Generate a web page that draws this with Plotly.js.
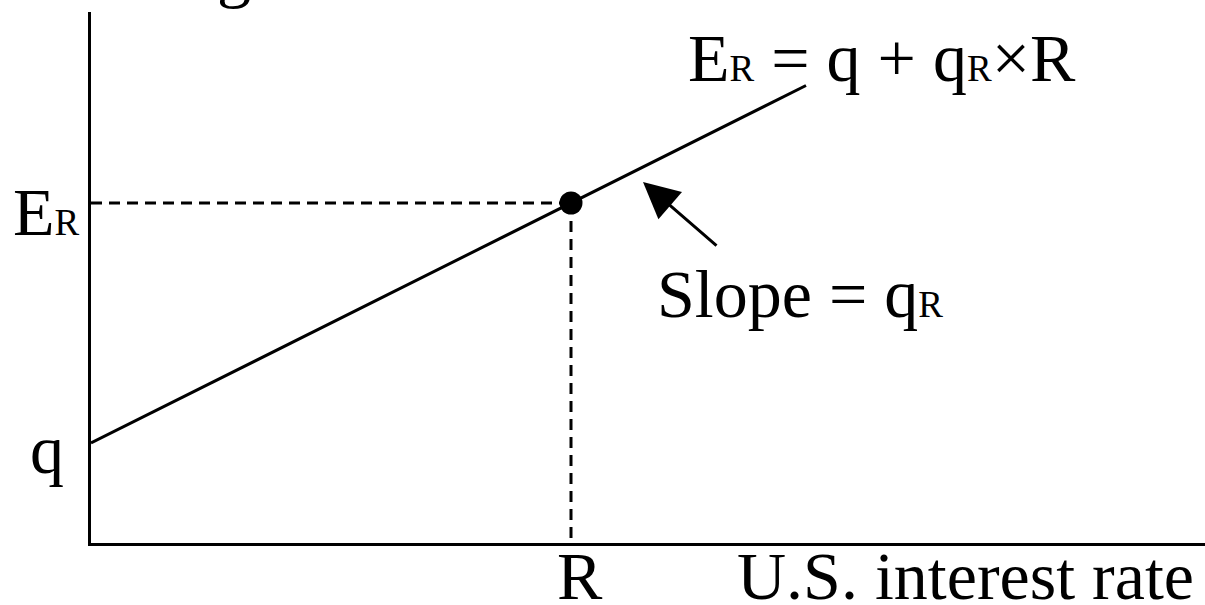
<!DOCTYPE html>
<html>
<head>
<meta charset="utf-8">
<script src="https://cdn.plot.ly/plotly-3.0.1.min.js"></script>
<style>html,body{margin:0;padding:0;background:#fff;}#chart{width:1205px;height:605px;}</style>
</head>
<body>
<div id="chart"></div>
<script>
// ---- data (conceptual units) ----
const lineX = [0, 7.15];          // U.S. interest rate
const lineY = [1.0, 4.575];       // E_R = q + qR x R
const rValue = [4.8];             // R
const erValue = [3.4];            // E_R at R
const hDashX = [0, 4.8];
const hDashY = [3.4, 3.4];
const vDashX = [4.8, 4.8];
const vDashY = [3.4, 0];
const arrowTip = {x: 5.52, y: 3.61};

// ---- layout helpers ----
const W = 1205, H = 605;
const M = {l: 91, r: 0, t: 12, b: 62};
const PW = W - M.l - M.r, PH = H - M.t - M.b;
const F = 68;
const FONT = '"Liberation Serif", "Times New Roman", serif';
function px2paperX(px){ return (px - M.l) / PW; }
function px2paperY(py){ return (H - M.b - py) / PH; }
function ann(text, left, baseline){
  return {
    text: text, xref: 'paper', yref: 'paper',
    x: px2paperX(left - 2), y: px2paperY(baseline + 0.216*F + 2),
    xanchor: 'left', yanchor: 'bottom', showarrow: false,
    font: {family: FONT, size: F, color: '#000'}
  };
}
const sub = t => '<span style="font-size:37px;fill:#000">' + t + '</span>';

const traces = [
  {x: lineX, y: lineY, mode: 'lines', line: {color: '#000', width: 3}, hoverinfo: 'skip'},
  {x: hDashX, y: hDashY, mode: 'lines', line: {color: '#000', width: 3, dash: '11px,7px'}, hoverinfo: 'skip'},
  {x: vDashX, y: vDashY, mode: 'lines', line: {color: '#000', width: 3, dash: '11px,7px'}, hoverinfo: 'skip'},
  {x: rValue, y: erValue, mode: 'markers', marker: {color: '#000', size: 23}, hoverinfo: 'skip', cliponaxis: false}
];

const layout = {
  width: W, height: H,
  margin: M,
  paper_bgcolor: '#fff', plot_bgcolor: '#fff',
  showlegend: false,
  xaxis: {range: [0, PW/100], showgrid: false, zeroline: false, showticklabels: false, ticks: '',
          showline: true, linecolor: '#000', linewidth: 3, fixedrange: true},
  yaxis: {range: [0, PH/100], showgrid: false, zeroline: false, showticklabels: false, ticks: '',
          showline: true, linecolor: '#000', linewidth: 3, fixedrange: true},
  annotations: [
    ann('Exchange rate', 13, -5),
    ann('E' + sub('R'), 13, 235),
    ann('q', 30, 473),
    ann('R', 557, 599),
    ann('U.S. interest rate', 737, 599),
    ann('E' + sub('R') + ' = q + q' + sub('R') + '×R', 688, 81),
    ann('Slope = q' + sub('R'), 657, 317),
    {x: arrowTip.x, y: arrowTip.y, xref: 'x', yref: 'y', ax: 75, ay: 65, text: '',
     showarrow: true, arrowhead: 2, arrowsize: 2.4, arrowwidth: 3, arrowcolor: '#000', standoff: 0}
  ]
};

Plotly.newPlot('chart', traces, layout, {staticPlot: true, displayModeBar: false});
</script>
</body>
</html>
